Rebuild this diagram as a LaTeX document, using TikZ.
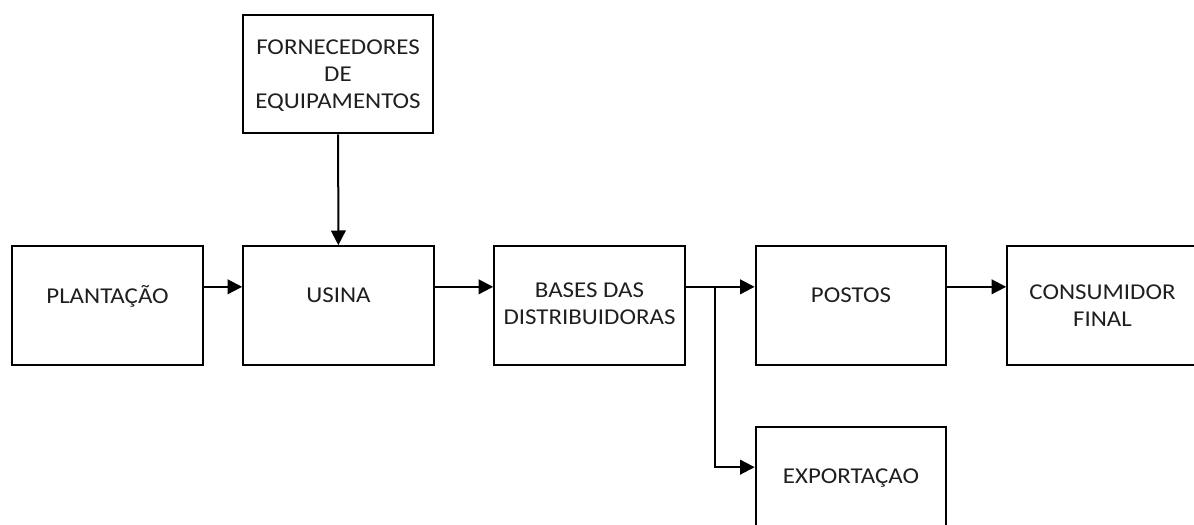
\documentclass[tikz,border=0pt]{standalone}
\usepackage{fontspec}
\setmainfont{Carlito}[FakeStretch=1.1]
\usetikzlibrary{arrows.meta}

\begin{document}
\begin{tikzpicture}[x=0.75pt, y=-0.75pt, >={Triangle[length=11pt,width=11pt]}, line width=1.5pt,
    box/.style = {draw, minimum width=143pt, minimum height=89pt, align=center, text depth=16pt,
                  text=black!88, font=\fontsize{17}{20}\selectfont},
    flow/.style = {->}]
    \clip (0,0) rectangle (1194,524);

    % Nodes
    \node[box, text depth=-15pt] (forn) at (338,74) {FORNECEDORES\\DE\\EQUIPAMENTOS};
    \node[box] (plant) at (107.5,305.5) {PLANTAÇÃO};
    \node[box] (usina) at (338.5,305.5) {USINA};
    \node[box, text depth=3pt] (bases) at (589.5,305.5) {BASES DAS\\DISTRIBUIDORAS};
    \node[box] (postos) at (851,305.5) {POSTOS};
    \node[box, text depth=-8pt] (cons) at (1102.5,305.5) {CONSUMIDOR\\FINAL};
    \node[box] (export) at (851,486.5) {EXPORTAÇAO};
    \coordinate (split) at (715,287);

    % Edges
    \draw[flow] (forn) -- (usina);
    \draw[flow] ([yshift=14pt]plant.east) -- ([yshift=14pt]usina.west);
    \draw[flow] ([yshift=14pt]usina.east) -- ([yshift=14pt]bases.west);
    \draw[flow] ([yshift=14pt]bases.east) -- ([yshift=14pt]postos.west);
    \draw[flow] (split) |- ([yshift=14.5pt]export.west);
    \draw[flow] ([yshift=14pt]postos.east) -- ([yshift=14pt]cons.west);

\end{tikzpicture}
\end{document}
